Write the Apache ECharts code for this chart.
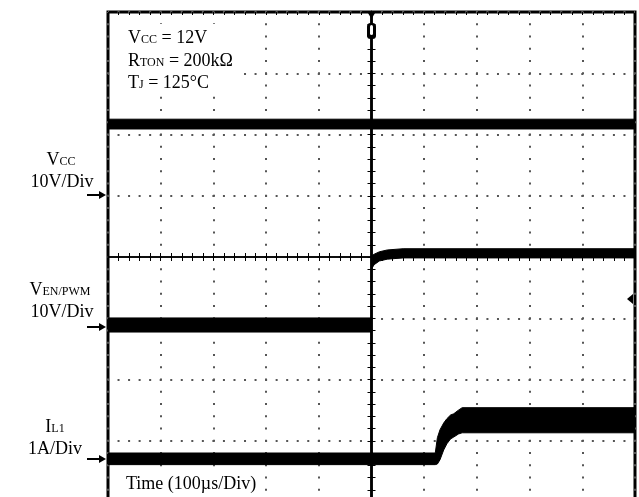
<!DOCTYPE html>
<html><head><meta charset="utf-8">
<script src="https://cdn.jsdelivr.net/npm/echarts@6/dist/echarts.min.js"></script>
<style>html,body{margin:0;padding:0;background:#fff}#c{width:639px;height:497px}</style>
</head><body><div id="c"></div>
<script>
// Time axis: microseconds, 100 us per division, trigger at 0
const timeMin = -500, timeMax = 500, timeDiv = 100;
// Vertical: 8 divisions, screen centre = 0 div
const divMin = -4, divMax = 4;

// VCC trace (volts): noise envelope
const vccTime = [-500, 500];
const vccLow  = [10.9, 10.9];
const vccHigh = [12.5, 12.5];

// VEN/PWM trace (volts): noise envelope
const enTime = [-500, 0, 0, 5, 15, 30, 60, 500];
const enLow  = [-1.0, -1.0, 9.3, 10.0, 10.6, 10.9, 11.1, 11.1];
const enHigh = [1.3, 1.3, 11.4, 11.7, 12.1, 12.4, 12.6, 12.6];

// IL1 trace (amps): ripple envelope
const ilTime = [-500, 121, 125, 130, 137, 143, 150, 156, 165, 172, 500];
const ilLow  = [-0.11, -0.11, -0.10, -0.03, 0.13, 0.23, 0.31, 0.34, 0.39, 0.41, 0.41];
const ilHigh = [0.08, 0.08, 0.33, 0.46, 0.57, 0.64, 0.70, 0.72, 0.78, 0.82, 0.82];

// Channel ground markers (div from centre) and units per division
const vccGround = 1.0,    vccScale = 10;
const enGround  = -1.125, enScale  = 10;
const ilGround  = -3.28,  ilScale  = 1;

const F = '"Liberation Serif", "Times New Roman", "DejaVu Serif", serif';

function band(name, time, low, high, ground, scale) {
  return {
    type: 'custom', name: name, data: [[0, 0]], z: 5, silent: true, clip: true,
    renderItem: function (params, api) {
      const up = time.map((t, i) => api.coord([t, ground + high[i] / scale]));
      const dn = time.map((t, i) => api.coord([t, ground + low[i] / scale])).reverse();
      return { type: 'polygon', shape: { points: up.concat(dn) },
               style: { fill: '#000', stroke: '#000', lineWidth: 1 } };
    }
  };
}

const chart = echarts.init(document.getElementById('c'), null, { renderer: 'canvas' });

const tickStyle = { color: '#000', width: 1 };
function xAx(pos, onZero, withSplit, len, lineW) {
  return {
    type: 'value', min: timeMin, max: timeMax, interval: timeDiv, position: pos,
    axisLine: { show: onZero, onZero: onZero, lineStyle: { color: '#000', width: lineW } },
    axisTick: { show: true, inside: true, length: len, lineStyle: tickStyle },
    minorTick: { show: true, splitNumber: 5, length: len, lineStyle: tickStyle },
    axisLabel: { show: false },
    splitLine: { show: withSplit, lineStyle: { color: '#555', width: 2, type: [2, 10.25], dashOffset: 1 } },
    minorSplitLine: { show: false }
  };
}
function yAx(pos, onZero, withSplit, len, lineW) {
  return {
    type: 'value', min: divMin, max: divMax, interval: 1, position: pos,
    axisLine: { show: onZero, onZero: onZero, lineStyle: { color: '#000', width: lineW } },
    axisTick: { show: true, inside: true, length: len, lineStyle: tickStyle },
    minorTick: { show: true, splitNumber: 5, length: len, lineStyle: tickStyle },
    axisLabel: { show: false },
    splitLine: { show: withSplit, lineStyle: { color: '#555', width: 2, type: [2, 8.54], dashOffset: 1 } },
    minorSplitLine: { show: false }
  };
}

const big = { fontSize: 18, fontFamily: F, fill: '#000', color: '#000', verticalAlign: 'bottom' };
const small = { fontSize: 12, fontFamily: F, fill: '#000', color: '#000', verticalAlign: 'bottom', padding: [0, 0, 1, 0] };
const rich = { b: big, s: small };
function txt(x, y, text, align) {
  return { type: 'text', x: x, y: y, silent: true, z: 20,
    style: { text: text, rich: rich, fontSize: 18, fontFamily: F, fill: '#000',
      align: align, textAlign: align, verticalAlign: 'middle', textVerticalAlign: 'middle' } };
}
function arrow(yc) {
  return [
    { type: 'line', silent: true, shape: { x1: 87, y1: yc, x2: 100, y2: yc }, style: { stroke: '#000', lineWidth: 2 } },
    { type: 'polygon', silent: true, shape: { points: [[99, yc - 4], [106, yc], [99, yc + 4]] }, style: { fill: '#000' } }
  ];
}

chart.setOption({
  animation: false,
  backgroundColor: '#fff',
  grid: { left: 108, top: 12, width: 527, height: 490, show: true, borderColor: '#000', borderWidth: 3,
          containLabel: false, outerBoundsMode: 'none' },
  xAxis: [xAx('bottom', true, true, 4, 1.5), xAx('top', true, false, 4, 1.5), xAx('top', false, false, 3, 1)],
  yAxis: [yAx('left', true, true, 4, 2.5), yAx('right', true, false, 4, 2.5)],
  series: [
    band('VCC', vccTime, vccLow, vccHigh, vccGround, vccScale),
    band('VEN/PWM', enTime, enLow, enHigh, enGround, enScale),
    band('IL1', ilTime, ilLow, ilHigh, ilGround, ilScale)
  ]
});

const cx = chart.convertToPixel({ xAxisIndex: 0 }, 0);
const g = [
  { type: 'rect', silent: true, z: 10, shape: { x: 114, y: 24, width: 124, height: 70 }, style: { fill: '#fff' } },
  { type: 'rect', silent: true, z: 10, shape: { x: 120, y: 472, width: 142, height: 25 }, style: { fill: '#fff' } },
  txt(128, 38, '{b|V}{s|CC}{b| = 12V}', 'left'),
  txt(128, 61, '{b|R}{s|TON}{b| = 200kΩ}', 'left'),
  txt(128, 83, '{b|T}{s|J}{b| = 125°C}', 'left'),
  txt(126, 484, '{b|Time (100µs/Div)}', 'left'),
  txt(61, 160, '{b|V}{s|CC}', 'center'),
  txt(62, 182, '{b|10V/Div}', 'center'),
  txt(60, 290, '{b|V}{s|EN/PWM}', 'center'),
  txt(62, 312, '{b|10V/Div}', 'center'),
  txt(55, 427, '{b|I}{s|L1}', 'center'),
  txt(55, 449, '{b|1A/Div}', 'center'),
  { type: 'polygon', silent: true, z: 20, shape: { points: [[cx - 3.5, 13], [cx + 3.5, 13], [cx, 19]] }, style: { fill: '#000' } },
  { type: 'rect', silent: true, z: 20, shape: { x: cx - 4.5, y: 23, width: 9, height: 16, r: 3.5 }, style: { fill: '#000' } },
  { type: 'rect', silent: true, z: 21, shape: { x: cx - 1.5, y: 25, width: 3, height: 10, r: 1.5 }, style: { fill: '#fff' } },
  { type: 'polygon', silent: true, z: 20, shape: { points: [[627, 299], [633, 294], [633, 304]] }, style: { fill: '#000' } }
].concat(arrow(195), arrow(327), arrow(459));
chart.setOption({ graphic: g });
</script></body></html>
